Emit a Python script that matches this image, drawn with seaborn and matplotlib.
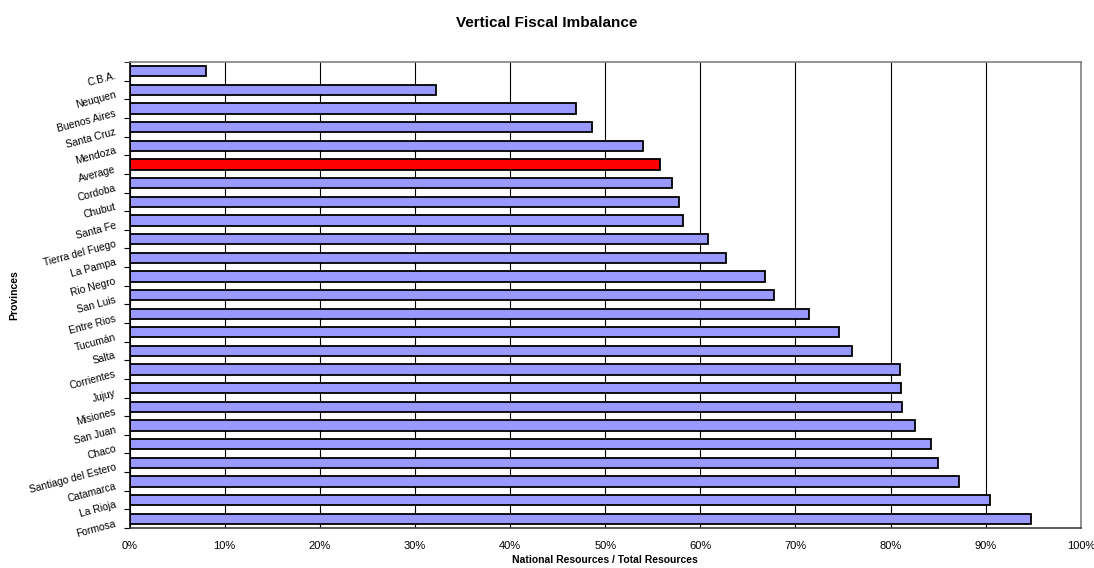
import matplotlib
matplotlib.use('Agg')
import matplotlib.pyplot as plt
import numpy as np
import pandas as pd
import seaborn as sb
from matplotlib.ticker import FixedLocator, PercentFormatter

# Share of national transfers in total provincial resources
provinces = ['C.B.A.', 'Neuquen', 'Buenos Aires', 'Santa Cruz', 'Mendoza', 'Average',
             'Cordoba', 'Chubut', 'Santa Fe', 'Tierra del Fuego', 'La Pampa', 'Rio Negro',
             'San Luis', 'Entre Rios', 'Tucumán', 'Salta', 'Corrientes', 'Jujuy',
             'Misiones', 'San Juan', 'Chaco', 'Santiago del Estero', 'Catamarca',
             'La Rioja', 'Formosa']
shares = [8.0, 32.2, 46.9, 48.6, 54.0, 55.8,
          57.0, 57.8, 58.2, 60.8, 62.7, 66.8,
          67.7, 71.4, 74.6, 75.9, 81.0, 81.1,
          81.2, 82.6, 84.2, 85.0, 87.2,
          90.5, 94.8]
xTickValues = [0, 10, 20, 30, 40, 50, 60, 70, 80, 90, 100]

df = pd.DataFrame({'Province': provinces, 'Share': shares})
barColors = {p: ('#FF0000' if p == 'Average' else '#9999FF') for p in provinces}

sb.set_style('white')
plt.rcParams['font.family'] = ['Liberation Sans', 'DejaVu Sans']
plt.rcParams['text.color'] = 'black'
plt.rcParams['axes.labelcolor'] = 'black'
plt.rcParams['xtick.labelcolor'] = 'black'
plt.rcParams['ytick.labelcolor'] = 'black'

fig = plt.figure(figsize=(10.94, 5.68), dpi=100)
ax = fig.add_axes([0.1184, 0.0704, 0.8696, 0.8204])

sb.barplot(data=df, x='Share', y='Province', hue='Province', palette=barColors,
           legend=False, orient='h', width=0.55, edgecolor='black', linewidth=1.3,
           saturation=1, ax=ax)

ax.set_xlim(0, 100)
ax.set_ylim(len(provinces) - 0.5, -0.5)
ax.set_xticks(xTickValues)
ax.xaxis.set_major_formatter(PercentFormatter(decimals=0))
ax.tick_params(axis='x', labelsize=8, length=3, color='#404040', labelcolor='black', pad=6)
ax.grid(axis='x', color='black', linewidth=0.8)
ax.set_axisbelow(True)

# tick marks sit between categories, labels hang just above each tick
ax.set_yticks(np.arange(len(provinces)) + 0.5)
ax.set_yticklabels(provinces, rotation=15, ha='right', va='bottom', rotation_mode='anchor')
ax.yaxis.set_minor_locator(FixedLocator([-0.5]))
ax.tick_params(axis='y', which='both', labelsize=7.4, length=4, color='black',
               labelcolor='black', pad=5, left=True)

for side in ['top', 'right']:
    ax.spines[side].set_color('#808080')
    ax.spines[side].set_linewidth(1.2)
ax.spines['left'].set_color('black')
ax.spines['bottom'].set_color('#404040')
ax.spines['left'].set_linewidth(1.2)
ax.spines['bottom'].set_linewidth(1.2)

ax.set_xlabel('National Resources / Total Resources', fontsize=7.5, fontweight='bold',
              labelpad=3, color='black')
ax.set_ylabel('Provinces', fontsize=7.5, fontweight='bold', labelpad=6, color='black')
fig.suptitle('Vertical Fiscal Imbalance', fontsize=11, fontweight='bold', y=0.96,
             va='center', color='black')

fig.savefig('out.png', dpi=100, facecolor='white')
plt.close()
